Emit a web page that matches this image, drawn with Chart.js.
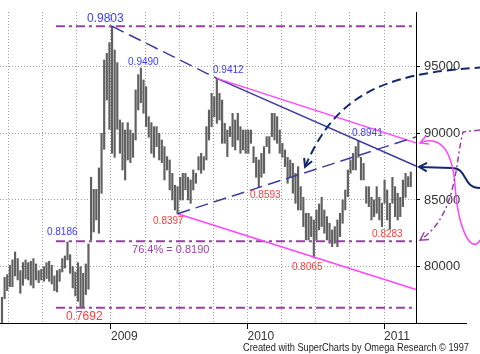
<!DOCTYPE html>
<html>
<head>
<meta charset="utf-8">
<script src="https://cdn.jsdelivr.net/npm/chart.js@4/dist/chart.umd.min.js"></script>
<style>html,body{margin:0;padding:0;background:#fff;}</style>
</head>
<body>
<canvas id="myChart" width="480" height="354"></canvas>
<script>
// weekly bars, first one in mid March 2008
var firstWeek = 2008.2015;
var weeksPerYear = 52.1;

var barHigh = [
  .777,.792,.794,.801,.805,.811,.806,.797,.803,.805,
  .803,.804,.806,.802,.797,.798,.800,.803,.804,.801,
  .793,.797,.798,.806,.808,.8186,.809,.800,.796,.803,
  .800,.795,.802,.817,.867,.858,.858,.874,.900,.955,
  .960,.968,.9803,.9625,.953,.910,.908,.9025,.908,.9025,
  .900,.9325,.944,.949,.940,.935,.9125,.908,.905,.905,
  .900,.895,.890,.8825,.880,.870,.861,.860,.867,.870,
  .870,.867,.865,.8725,.870,.8825,.885,.8825,.905,.9175,
  .930,.9275,.9412,.930,.925,.9075,.9025,.905,.915,.910,
  .915,.905,.9025,.9025,.9025,.9025,.890,.882,.880,.885,
  .890,.8975,.8975,.915,.915,.9125,.9025,.8925,.8875,.882,
  .880,.8775,.870,.875,.860,.852,.840,.840,.8375,.835,
  .8425,.847,.852,.8425,.8375,.8325,.8275,.830,.835,.840,
  .850,.8575,.8725,.880,.885,.890,.8941,.882,.8775,.860,
  .860,.852,.850,.860,.852,.8475,.865,.8575,.8475,.867,
  .860,.855,.852,.865,.870,.8675,.871
];
var barLow = [
  .758,.776,.782,.785,.785,.793,.790,.780,.786,.791,
  .790,.786,.784,.790,.788,.790,.789,.791,.789,.787,
  .782,.781,.789,.796,.799,.805,.795,.784,.778,.774,
  .770,.7692,.779,.783,.820,.826,.835,.825,.855,.888,
  .925,.903,.885,.882,.903,.885,.8725,.865,.880,.878,
  .882,.895,.9175,.923,.915,.905,.897,.885,.882,.890,
  .880,.878,.865,.8725,.8575,.850,.8425,.8397,.850,.850,
  .8575,.850,.8475,.8575,.8625,.8725,.870,.8725,.880,.895,
  .905,.9125,.9075,.910,.8925,.8925,.8825,.8975,.890,.8875,
  .895,.885,.8875,.885,.885,.8925,.878,.867,.8593,.867,
  .870,.890,.885,.8975,.895,.8925,.885,.882,.875,.8625,
  .867,.855,.8475,.8425,.8425,.830,.820,.820,.8225,.8065,
  .820,.8275,.830,.825,.820,.8175,.815,.8175,.815,.8225,
  .8325,.8425,.8525,.870,.8725,.8725,.882,.865,.865,.8475,
  .845,.835,.8375,.840,.835,.830,.8475,.835,.8283,.8475,
  .8375,.835,.8375,.845,.852,.860,.860
];

var yTicks = [0.80, 0.85, 0.90, 0.95];
var yearTicks = [2009, 2010, 2011];
var quarterTicks = [2008.25,2008.5,2008.75,2009,2009.25,2009.5,2009.75,2010,2010.25,2010.5,2010.75,2011];
var xMin = 2008.187, xMax = 2011.234;
var yMin = 0.7577, yMax = 0.991;

// price levels (dash-dot) and where they start
var levels = [0.9803, 0.8190, 0.7692];
var levelStart = 2008.597;

// trend lines: [bar index, price] or [time, price]
var trendLines = [
  {from:[42,0.9803], to:[xMax,0.8755], mid:[82,0.9412], color:'#3d3d9c', dash:[13,6]},
  {from:[82,0.9412], to:[xMax,0.8928], color:'#ff44ff', dash:[]},
  {from:[67,0.8397], to:[xMax,0.7828], color:'#ff44ff', dash:[]},
  {from:[67,0.8397], to:[xMax,0.8973], color:'#3d3d9c', dash:[13,6]}
];

// price labels
var labelText = ['0.9803','0.9490','0.9412','0.8941','0.8186','0.8397','0.8593','0.8065','0.8283','0.7692','76.4% = 0.8190'];
var labelT    = [2008.824,2009.125,2009.747,2010.766,2008.531,2009.308,2010.018,2010.326,2010.912,2008.670,2009.154];
var labelV    = [0.9858,0.9535,0.9475,0.8999,0.8260,0.8343,0.8538,0.7998,0.8245,0.7623,0.8125];
var labelCol  = ['#3b3bff','#3b3bff','#3b3bff','#3b3bff','#3b3bff','#ff3b3b','#ff3b3b','#ff3b3b','#ff3b3b','#ff3b3b','#9a3fa8'];
var labelSize = [12,10,10,10,10,10,10,10,10,12,11];

// hand drawn arrows on the right (time, price)
var curves = [
  {start:[2010.421,0.8748], segs:[[[2010.641,0.9275],[2010.971,0.9448],[2011.703,0.9493]]],
   color:'#14286e', width:2, dash:[9,5], arrow:'start'},
  {start:[2011.256,0.8748], segs:[[[2011.498,0.874]],[[2011.615,0.874],[2011.571,0.859],[2011.703,0.859]]],
   color:'#14286e', width:2, dash:[], arrow:'start'},
  {start:[2011.264,0.8928], segs:[[[2011.410,0.8988],[2011.498,0.8875],[2011.520,0.8613]],[[2011.542,0.8275],[2011.640,0.8088],[2011.703,0.820]]],
   color:'#ff44ff', width:1.5, dash:[], arrow:'start'},
  {start:[2011.703,0.9025], segs:[[[2011.579,0.901]],[[2011.520,0.880],[2011.542,0.839],[2011.264,0.8198]]],
   color:'#9a3fa8', width:1.5, dash:[6,3,2,3], arrow:'end'}
];

function weekT(i){ return firstWeek + i/weeksPerYear; }
function tOf(p){ return p[0] > 1000 ? p[0] : weekT(p[0]); }

function arrowHead(ctx, tip, from){
  var a = Math.atan2(tip.y - from.y, tip.x - from.x);
  ctx.save();
  ctx.setLineDash([]);
  ctx.beginPath();
  ctx.moveTo(tip.x - 9*Math.cos(a-0.5), tip.y - 9*Math.sin(a-0.5));
  ctx.lineTo(tip.x, tip.y);
  ctx.lineTo(tip.x - 9*Math.cos(a+0.5), tip.y - 9*Math.sin(a+0.5));
  ctx.stroke();
  ctx.restore();
}

var annotate = {
  id:'annotate',
  afterDatasetsDraw: function(chart){
    var ctx = chart.ctx, xs = chart.scales.x, ys = chart.scales.y;
    var P = function(p){ return {x: xs.getPixelForValue(tOf(p)), y: ys.getPixelForValue(p[1])}; };
    ctx.save();
    // dash-dot levels
    ctx.strokeStyle = '#9a3fa8'; ctx.lineWidth = 2; ctx.setLineDash([9,4,3,4]);
    levels.forEach(function(v){
      ctx.beginPath();
      ctx.moveTo(xs.getPixelForValue(levelStart), ys.getPixelForValue(v));
      ctx.lineTo(xs.getPixelForValue(xMax), ys.getPixelForValue(v));
      ctx.stroke();
    });
    // trend lines
    trendLines.forEach(function(l){
      ctx.strokeStyle = l.color; ctx.lineWidth = 1.5;
      var a = P(l.from), b = P(l.to);
      if (l.mid){
        var m = P(l.mid);
        ctx.setLineDash(l.dash);
        ctx.beginPath(); ctx.moveTo(a.x,a.y); ctx.lineTo(m.x,m.y); ctx.stroke();
        ctx.setLineDash([]);
        ctx.beginPath(); ctx.moveTo(m.x,m.y); ctx.lineTo(b.x,b.y); ctx.stroke();
      } else {
        ctx.setLineDash(l.dash);
        ctx.beginPath(); ctx.moveTo(a.x,a.y); ctx.lineTo(b.x,b.y); ctx.stroke();
      }
    });
    // curves with arrows
    curves.forEach(function(c){
      ctx.strokeStyle = c.color; ctx.lineWidth = c.width; ctx.setLineDash(c.dash);
      var s = P(c.start);
      ctx.beginPath(); ctx.moveTo(s.x, s.y);
      var last = s, prev = s, firstNext = null;
      c.segs.forEach(function(seg){
        var pts = seg.map(P);
        if (!firstNext) firstNext = pts[0];
        if (pts.length === 1){ ctx.lineTo(pts[0].x, pts[0].y); prev = last; last = pts[0]; }
        else { ctx.bezierCurveTo(pts[0].x,pts[0].y,pts[1].x,pts[1].y,pts[2].x,pts[2].y); prev = pts[1]; last = pts[2]; }
      });
      ctx.stroke();
      if (c.arrow === 'start') arrowHead(ctx, s, firstNext);
      else arrowHead(ctx, last, prev);
    });
    // labels
    ctx.setLineDash([]);
    ctx.textAlign = 'left'; ctx.textBaseline = 'middle';
    labelText.forEach(function(t, i){
      ctx.font = labelSize[i] + 'px "Liberation Sans", Arial, sans-serif';
      ctx.fillStyle = labelCol[i];
      ctx.fillText(t, xs.getPixelForValue(labelT[i]), ys.getPixelForValue(labelV[i]));
    });
    // bottom axis line runs on past the price axis
    ctx.strokeStyle = '#000'; ctx.lineWidth = 1;
    ctx.beginPath();
    ctx.moveTo(chart.chartArea.right, chart.chartArea.bottom + 0.5);
    ctx.lineTo(xs.getPixelForValue(2011.608), chart.chartArea.bottom + 0.5);
    ctx.stroke();
    // credit
    ctx.font = '11px "Liberation Sans", Arial, sans-serif';
    ctx.fillStyle = '#222';
    ctx.fillText('Created with SuperCharts by Omega Research \u00a9 1997', chart.width - 237, chart.height - 6, 226);
    ctx.restore();
  }
};

var ctx = document.getElementById('myChart');
var myChart = new Chart(ctx, {
  type: 'bar',
  data: {
    datasets: [{
      data: barHigh.map(function(h, i){ return {x: weekT(i), y: [barLow[i], h]}; }),
      backgroundColor: '#606060',
      borderWidth: 0,
      barThickness: 1.5,
      grouped: false
    }]
  },
  options: {
    responsive: false,
    animation: false,
    layout: {padding: {top: 12, left: 0, right: 0, bottom: 0}},
    plugins: {legend: {display: false}, tooltip: {enabled: false}},
    scales: {
      x: {
        type: 'linear', position: 'bottom', min: xMin, max: xMax, offset: false,
        afterBuildTicks: function(s){ s.ticks = quarterTicks.map(function(v){ return {value: v}; }); },
        afterFit: function(s){ s.height = 31; },
        ticks: {
          autoSkip: false, maxRotation: 0, align: 'start', padding: 0, color: '#333',
          font: {size: 12, family: '"Liberation Sans", Arial, sans-serif'},
          callback: function(v){ return yearTicks.indexOf(v) >= 0 ? String(v) : ''; }
        },
        grid: {
          offset: false, color: '#a0a0a0', tickLength: 6,
          tickColor: function(c){ return c.tick && yearTicks.indexOf(c.tick.value) >= 0 ? '#000' : 'rgba(0,0,0,0)'; }
        },
        border: {display: true, color: '#000', dash: [1,2]}
      },
      y: {
        position: 'right', min: yMin, max: yMax,
        afterBuildTicks: function(s){ s.ticks = yTicks.map(function(v){ return {value: v}; }); },
        afterFit: function(s){ s.width = 64; },
        ticks: {
          padding: 4, color: '#333',
          font: {size: 13, family: '"Liberation Sans", Arial, sans-serif'},
          callback: function(v){ return String(Math.round(v*100000)); }
        },
        grid: {color: '#a0a0a0', tickLength: 4, tickColor: '#000'},
        border: {display: true, color: '#000', dash: [1,2]}
      }
    }
  },
  plugins: [annotate]
});
</script>
</body>
</html>
